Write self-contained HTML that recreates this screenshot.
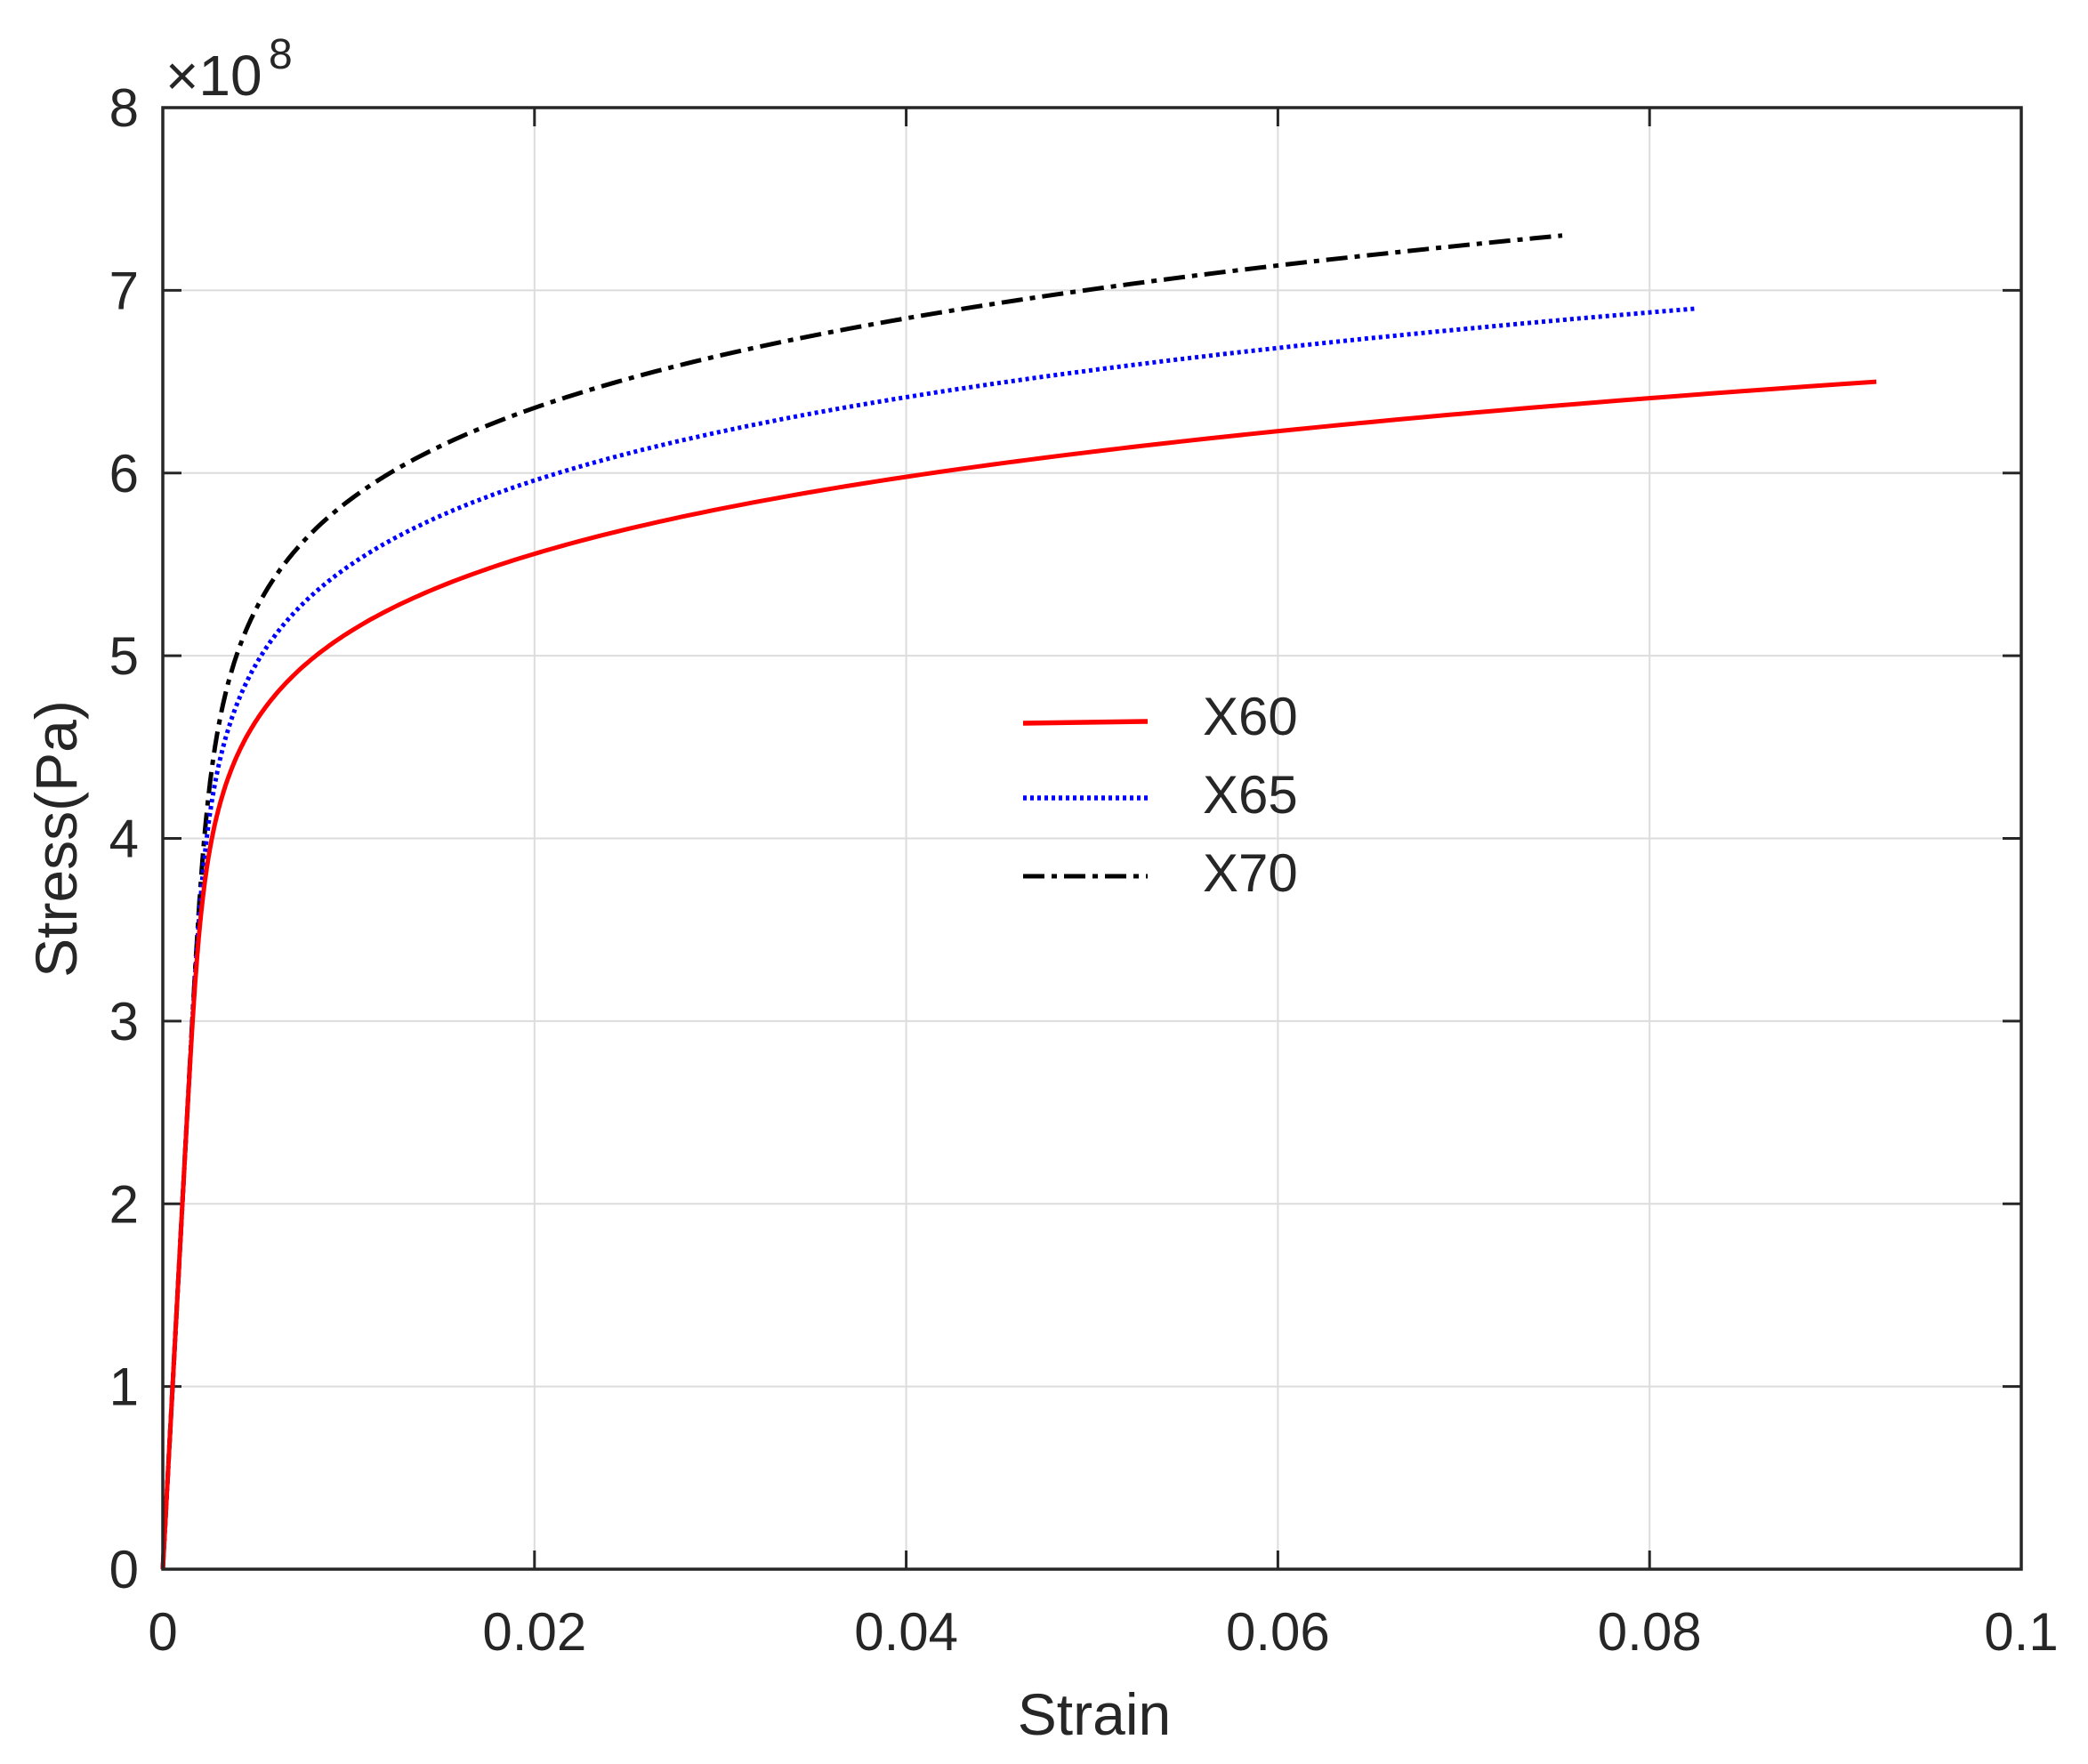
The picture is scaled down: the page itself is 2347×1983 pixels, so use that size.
<!DOCTYPE html>
<html><head><meta charset="utf-8">
<style>html,body{margin:0;padding:0;background:#fff}svg{display:block}text{font-family:"Liberation Sans",Arial,sans-serif;fill:#262626}</style>
</head><body>
<svg id="s" width="2347" height="1983" viewBox="0 0 2347 1983" xmlns="http://www.w3.org/2000/svg">
<rect width="2347" height="1983" fill="#fff"/>
<g id="grid" stroke="#dcdcdc" stroke-width="2"></g>
<g id="ticks" stroke="#262626" stroke-width="3"></g>
<g id="labels" font-size="60"></g>
<g id="curves" fill="none"></g>
<rect x="183" y="121" width="2089" height="1643" fill="none" stroke="#262626" stroke-width="3.5"/>
<text x="186" y="107" font-size="64">×10</text>
<text x="302" y="77" font-size="48">8</text>
<text x="1230" y="1950" font-size="66" text-anchor="middle">Strain</text>
<text transform="translate(86,943) rotate(-90)" font-size="66" text-anchor="middle">Stress(Pa)</text>
<line x1="1150" y1="813" x2="1290" y2="811" stroke="#ff0000" stroke-width="5.5"/>
<line x1="1150" y1="897" x2="1290" y2="897" stroke="#0000ff" stroke-width="5.5" stroke-dasharray="4,4"/>
<line x1="1150" y1="985" x2="1290" y2="985" stroke="#000" stroke-width="5" stroke-dasharray="24,8,6,8"/>
<text x="1352" y="826" font-size="60">X60</text>
<text x="1352" y="914" font-size="60">X65</text>
<text x="1352" y="1002" font-size="60">X70</text>
</svg>
<script>
var L=183,R=2272,T=121,B=1764;
function X(e){return L+(e/0.1)*(R-L);}
function Y(s){return B-(s/8)*(B-T);}
var g=document.getElementById('grid'),tk=document.getElementById('ticks'),lb=document.getElementById('labels');
var ns='http://www.w3.org/2000/svg';
function el(p,t,a,txt){var e=document.createElementNS(ns,t);for(var k in a)e.setAttribute(k,a[k]);if(txt!=null)e.textContent=txt;p.appendChild(e);return e;}
for(var i=0;i<=5;i++){var x=X(i*0.02);
 if(i>0&&i<5)el(g,'line',{x1:x,y1:T,x2:x,y2:B});
 el(tk,'line',{x1:x,y1:B,x2:x,y2:B-21});el(tk,'line',{x1:x,y1:T,x2:x,y2:T+21});
 var t=['0','0.02','0.04','0.06','0.08','0.1'][i];
 el(lb,'text',{x:x,y:1855,'text-anchor':'middle'},t);}
for(var j=0;j<=8;j++){var y=Y(j);
 if(j>0&&j<8)el(g,'line',{x1:L,y1:y,x2:R,y2:y});
 el(tk,'line',{x1:L,y1:y,x2:L+21,y2:y});el(tk,'line',{x1:R,y1:y,x2:R-21,y2:y});
 el(lb,'text',{x:156,y:y+21,'text-anchor':'end'},String(j));}
var cv=document.getElementById('curves');
function curve(K,n,smax,eend,col,dash,w){
 var d='',E=1900;
 var pend=Math.pow(smax/K,1/n), sc=(eend-smax/E)/pend;
 for(var k=0;k<=500;k++){var s=smax*k/500;var e=s/E+sc*Math.pow(s/K,1/n);
  d+=(k?'L':'M')+X(e).toFixed(1)+','+Y(s).toFixed(1);}
 var a={d:d,stroke:col,'stroke-width':w};if(dash)a['stroke-dasharray']=dash;
 el(cv,'path',a);}
curve(9.58,0.095,7.3,0.0753,'#000','24,8,6,8',5);
curve(8.955,0.095,6.9,0.0825,'#0000ff','4,4',5);
curve(8.32,0.095,6.5,0.0922,'#ff0000',null,5);
</script>
</body></html>
